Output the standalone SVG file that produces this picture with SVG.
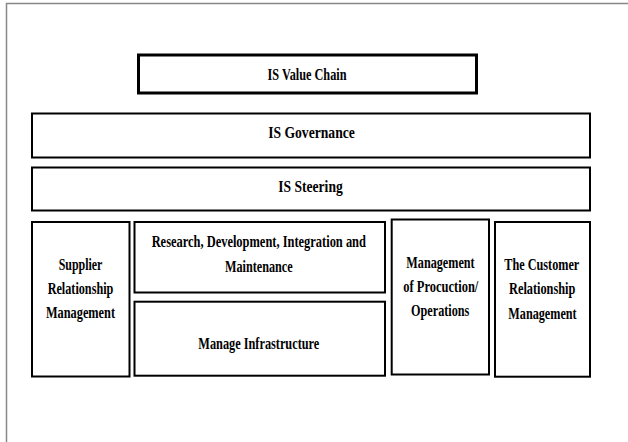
<svg xmlns="http://www.w3.org/2000/svg" width="628" height="442" viewBox="0 0 628 442">
<style>
.box{fill:#fff;stroke:#000;stroke-width:2}
.thick{stroke-width:3}
.t{font-family:"Liberation Serif","Times New Roman",serif;font-weight:bold;font-size:17px;fill:#000;text-anchor:middle}
</style>
<rect width="628" height="442" fill="#fff"/>
<path d="M6.5 442 V3.5 H628" fill="none" stroke="#888" stroke-width="1.5"/>
<g id="value-chain">
<rect class="box thick" x="138.5" y="55" width="338" height="38"/>
<text class="t" x="307" y="80" textLength="79" lengthAdjust="spacingAndGlyphs">IS Value Chain</text>
</g>
<g id="governance">
<rect class="box" x="32" y="113.5" width="558" height="44"/>
<text class="t" x="311.5" y="138.3" textLength="86.7" lengthAdjust="spacingAndGlyphs">IS Governance</text>
</g>
<g id="steering">
<rect class="box" x="32" y="167.5" width="558" height="43"/>
<text class="t" x="310.5" y="192.3" textLength="64.4" lengthAdjust="spacingAndGlyphs">IS Steering</text>
</g>
<g id="supplier">
<rect class="box" x="32" y="222" width="97.5" height="154.5"/>
<text class="t" x="80.5" y="270" textLength="43.7" lengthAdjust="spacingAndGlyphs">Supplier</text>
<text class="t" x="80.5" y="294" textLength="65.7" lengthAdjust="spacingAndGlyphs">Relationship</text>
<text class="t" x="80.5" y="318.3" textLength="69" lengthAdjust="spacingAndGlyphs">Management</text>
</g>
<g id="research">
<rect class="box" x="134.5" y="222" width="250.5" height="70.5"/>
<text class="t" x="258.8" y="246.7" textLength="214.3" lengthAdjust="spacingAndGlyphs">Research, Development, Integration  and</text>
<text class="t" x="258.8" y="271.5" textLength="67.7" lengthAdjust="spacingAndGlyphs">Maintenance</text>
</g>
<g id="infrastructure">
<rect class="box" x="134.5" y="301.7" width="250.5" height="74"/>
<text class="t" x="258.8" y="349.3" textLength="121" lengthAdjust="spacingAndGlyphs">Manage Infrastructure</text>
</g>
<g id="operations">
<rect class="box" x="391.7" y="219.5" width="97.3" height="155"/>
<text class="t" x="440.5" y="268" textLength="68.3" lengthAdjust="spacingAndGlyphs">Management</text>
<text class="t" x="440.8" y="291.7" textLength="75" lengthAdjust="spacingAndGlyphs">of Procuction/</text>
<text class="t" x="440.2" y="315.5" textLength="58.3" lengthAdjust="spacingAndGlyphs">Operations</text>
</g>
<g id="customer">
<rect class="box" x="495" y="222" width="95" height="154.7"/>
<text class="t" x="541.8" y="269.5" textLength="75" lengthAdjust="spacingAndGlyphs">The Customer</text>
<text class="t" x="542.2" y="294" textLength="66.3" lengthAdjust="spacingAndGlyphs">Relationship</text>
<text class="t" x="542.5" y="318.5" textLength="68.3" lengthAdjust="spacingAndGlyphs">Management</text>
</g>
<g id="connectors"></g>
</svg>
